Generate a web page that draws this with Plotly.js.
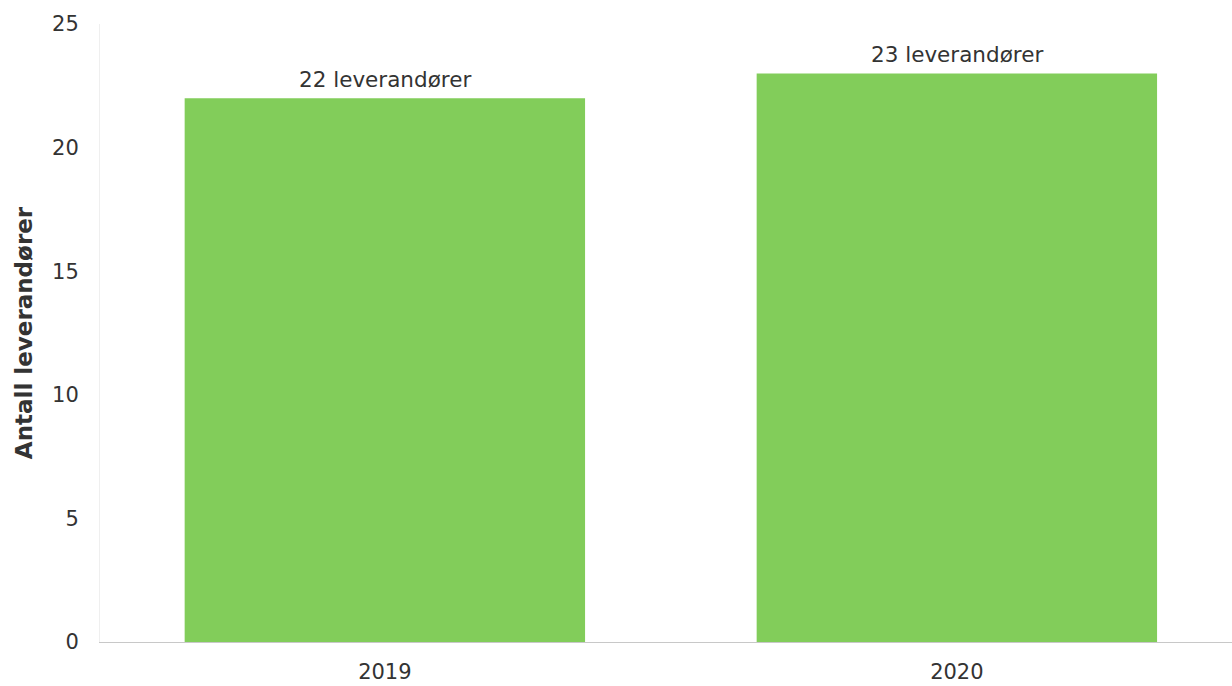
<!DOCTYPE html>
<html>
<head>
<meta charset="utf-8">
<script src="https://cdn.plot.ly/plotly-3.0.1.min.js"></script>
<style>html,body{margin:0;padding:0;background:#fff;}#chart{width:1232px;height:686px;}</style>
</head>
<body>
<div id="chart"></div>
<script>
const years = ['2019', '2020'];
const suppliers = [22, 23];
const labelSuffix = ' leverandører';
const yTicks = [0, 5, 10, 15, 20, 25];

const trace = {
  type: 'bar',
  x: years,
  y: suppliers,
  width: 0.7,
  marker: {color: '#82cd5a'},
  hoverinfo: 'none'
};

const annotations = years.map((yr, i) => ({
  x: i, y: suppliers[i], xref: 'x', yref: 'y',
  text: suppliers[i] + labelSuffix,
  showarrow: false, yanchor: 'bottom', yshift: 4,
  font: {family: 'DejaVu Sans', size: 21.5, color: '#333'}
}));

const layout = {
  width: 1232, height: 686,
  margin: {l: 100, r: 0, t: 24, b: 44},
  paper_bgcolor: '#fff', plot_bgcolor: '#fff',
  showlegend: false,
  font: {family: 'DejaVu Sans', size: 20, color: '#333'},
  xaxis: {
    type: 'category',
    range: [-0.498, 1.481],
    showgrid: false, zeroline: false,
    showline: true, linecolor: '#c8c8c8', linewidth: 1,
    ticks: '', ticklabelstandoff: 11,
    tickfont: {family: 'DejaVu Sans', size: 21, color: '#333'}
  },
  yaxis: {
    range: [0, 25],
    tickvals: yTicks,
    showgrid: false, zeroline: false,
    showline: true, linecolor: '#efefef', linewidth: 1,
    ticks: '', ticklabelstandoff: 16,
    tickfont: {family: 'DejaVu Sans', size: 21, color: '#333'},
    title: {text: 'Antall leverandører', standoff: 13,
      font: {family: 'DejaVu Sans', size: 23, color: '#333', weight: 'bold'}}
  },
  annotations: annotations
};

Plotly.newPlot('chart', [trace], layout, {displayModeBar: false, staticPlot: true});
</script>
</body>
</html>
